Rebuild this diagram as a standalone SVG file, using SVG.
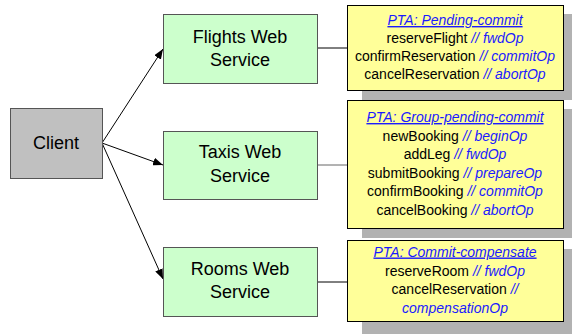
<svg xmlns="http://www.w3.org/2000/svg" width="572" height="334" viewBox="0 0 572 334">
<style>
.svc{fill:#ccffcc;stroke:#555;stroke-width:1}
.cli{fill:#c0c0c0;stroke:#555;stroke-width:1}
.note{fill:#ffff99;stroke:#000;stroke-width:1}
.shadow{fill:#b2b2b2}
.lbl{font-family:"Liberation Sans",Arial,sans-serif;font-size:18px;fill:#000;text-anchor:middle}
.nt{font-family:"Liberation Sans",Arial,sans-serif;font-size:14px;fill:#000;text-anchor:middle}
.c{fill:#1a1aff;font-style:italic}
.t{fill:#1a1aff;font-style:italic;text-decoration:underline}
.edge{stroke:#000;stroke-width:1;fill:none}
</style>
<defs>
<marker id="ah" viewBox="0 0 10 8" refX="10" refY="4" markerWidth="10" markerHeight="8" markerUnits="userSpaceOnUse" orient="auto">
<path d="M0,0 L10,4 L0,8 Z" fill="#000"/>
</marker>
</defs>
<g id="shadows">
<rect class="shadow" x="362" y="14" width="216" height="86"/>
<rect class="shadow" x="362" y="109" width="216" height="129"/>
<rect class="shadow" x="362" y="249" width="216" height="90"/>
</g>
<g id="connectors">
<line class="edge" x1="102" y1="143" x2="163" y2="49" marker-end="url(#ah)"/>
<line class="edge" x1="102" y1="143" x2="163" y2="165" marker-end="url(#ah)"/>
<line class="edge" x1="102" y1="143" x2="163" y2="279" marker-end="url(#ah)"/>
<line class="edge" x1="317" y1="48" x2="347" y2="48"/>
<line class="edge" x1="317" y1="165" x2="347" y2="165" style="stroke:#666"/>
<line class="edge" x1="317" y1="282" x2="347" y2="282"/>
</g>
<g id="client">
<rect class="cli" x="10.5" y="108.5" width="92" height="70"/>
<text class="lbl" x="56" y="149">Client</text>
</g>
<g id="flights">
<rect class="svc" x="163.5" y="14.5" width="154" height="69"/>
<text class="lbl" x="240" y="43">Flights Web</text>
<text class="lbl" x="240" y="66">Service</text>
</g>
<g id="taxis">
<rect class="svc" x="163.5" y="131.5" width="154" height="68"/>
<text class="lbl" x="240" y="158">Taxis Web</text>
<text class="lbl" x="240" y="182">Service</text>
</g>
<g id="rooms">
<rect class="svc" x="163.5" y="247.5" width="154" height="69"/>
<text class="lbl" x="240" y="275">Rooms Web</text>
<text class="lbl" x="240" y="298">Service</text>
</g>
<g id="note-flights">
<rect class="note" x="347.5" y="5.5" width="216" height="85"/>
<text class="nt" x="455" y="25"><tspan class="t">PTA: Pending-commit</tspan></text>
<text class="nt" x="455" y="43">reserveFlight <tspan class="c">// fwdOp</tspan></text>
<text class="nt" x="455" y="61">confirmReservation <tspan class="c">// commitOp</tspan></text>
<text class="nt" x="455" y="79">cancelReservation <tspan class="c">// abortOp</tspan></text>
</g>
<g id="note-taxis">
<rect class="note" x="347.5" y="100.5" width="216" height="128"/>
<text class="nt" x="455" y="122"><tspan class="t">PTA: Group-pending-commit</tspan></text>
<text class="nt" x="455" y="140.5">newBooking <tspan class="c">// beginOp</tspan></text>
<text class="nt" x="455" y="159">addLeg <tspan class="c">// fwdOp</tspan></text>
<text class="nt" x="455" y="177.5">submitBooking <tspan class="c">// prepareOp</tspan></text>
<text class="nt" x="455" y="196">confirmBooking <tspan class="c">// commitOp</tspan></text>
<text class="nt" x="455" y="214.5">cancelBooking <tspan class="c">// abortOp</tspan></text>
</g>
<g id="note-rooms">
<rect class="note" x="347.5" y="240.5" width="216" height="81"/>
<text class="nt" x="455" y="256.5"><tspan class="t">PTA: Commit-compensate</tspan></text>
<text class="nt" x="455" y="275.5">reserveRoom <tspan class="c">// fwdOp</tspan></text>
<text class="nt" x="455" y="294">cancelReservation <tspan class="c">//</tspan></text>
<text class="nt" x="455" y="312.5"><tspan class="c">compensationOp</tspan></text>
</g>
</svg>
